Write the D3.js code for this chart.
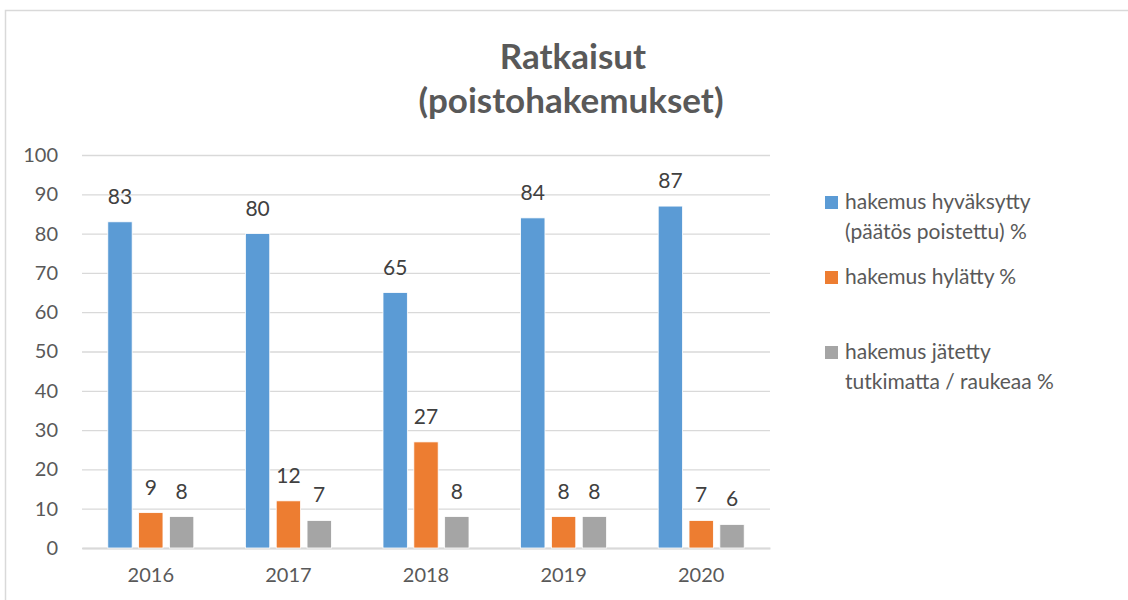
<!DOCTYPE html>
<html>
<head>
<meta charset="utf-8">
<script src="https://cdn.jsdelivr.net/npm/d3@7"></script>
<style>
  body { margin: 0; background: #fff; }
  text { font-family: Lato, "Open Sans", sans-serif; }
</style>
</head>
<body>
<div id="chart"></div>
<script>
// Data
const years = ["2016", "2017", "2018", "2019", "2020"];
const seriesNames = ["hyvaksytty", "hylatty", "jatetty"];
const hyvaksytty = [83, 80, 65, 84, 87];
const hylatty = [9, 12, 27, 8, 7];
const jatetty = [8, 7, 8, 8, 6];
const yTicks = [0, 10, 20, 30, 40, 50, 60, 70, 80, 90, 100];
const legendLabels = [
  ["hakemus hyväksytty", "(päätös poistettu) %"],
  ["hakemus hylätty %"],
  ["hakemus jätetty", "tutkimatta / raukeaa %"]
];
const colors = ["#5B9BD5", "#ED7D31", "#A5A5A5"];

let width = 1128, height = 600;
let margin = { top: 155, bottom: 52, left: 82, right: 358 };

let svg = d3.select('#chart')
  .append('svg')
  .attr('width', width)
  .attr('height', height);

// Chart border
svg.append('rect')
  .attr('x', 5.5)
  .attr('y', 10.5)
  .attr('width', 1140)
  .attr('height', 620)
  .attr('fill', 'none')
  .attr('stroke', '#D9D9D9')
  .attr('stroke-width', 1.5);

// Title
svg.append('text')
  .attr('x', 573)
  .attr('y', 69)
  .attr('text-anchor', 'middle')
  .attr('font-size', 35)
  .attr('font-weight', 'bold')
  .attr('fill', '#595959')
  .text('Ratkaisut');
svg.append('text')
  .attr('x', 571)
  .attr('y', 113)
  .attr('text-anchor', 'middle')
  .attr('font-size', 35)
  .attr('font-weight', 'bold')
  .attr('fill', '#595959')
  .text('(poistohakemukset)');

// Scales
let x0 = d3.scaleBand()
  .domain(years)
  .range([margin.left, width - margin.right]);

let x1 = d3.scaleBand()
  .domain(seriesNames)
  .range([-43, 43])
  .paddingInner(0.21);

let y = d3.scaleLinear()
  .domain([0, 100])
  .range([height - margin.bottom, margin.top]);

const color = d3.scaleOrdinal()
  .domain(seriesNames)
  .range(colors);

// Gridlines + y axis
let yAxis = svg.append('g')
  .attr('transform', `translate(${margin.left},0)`)
  .call(d3.axisLeft(y).tickValues(yTicks).tickSize(-(width - margin.right - margin.left)).tickPadding(24));
yAxis.select('.domain').remove();
yAxis.selectAll('line').attr('stroke', '#D9D9D9').attr('stroke-width', 1.3);
yAxis.selectAll('text')
  .attr('font-size', 20)
  .attr('fill', '#595959')
  .style('font-family', 'Lato, sans-serif');

// x axis
let xAxis = svg.append('g')
  .attr('transform', `translate(0,${y(0)})`)
  .call(d3.axisBottom(x0).tickSize(0).tickPadding(20));
xAxis.select('.domain').attr('stroke', '#D9D9D9').attr('stroke-width', 2);
xAxis.selectAll('text')
  .attr('font-size', 20)
  .attr('fill', '#595959')
  .style('font-family', 'Lato, sans-serif');

// Bars
const rows = years.map((yr, i) => ({
  year: yr,
  values: [
    { key: "hyvaksytty", v: hyvaksytty[i] },
    { key: "hylatty", v: hylatty[i] },
    { key: "jatetty", v: jatetty[i] }
  ]
}));

const groups = svg.selectAll('.grp')
  .data(rows)
  .enter()
  .append('g')
  .attr('transform', d => `translate(${x0(d.year) + x0.bandwidth() / 2},0)`);

groups.selectAll('rect')
  .data(d => d.values)
  .enter()
  .append('rect')
  .attr('x', d => x1(d.key))
  .attr('y', d => y(d.v))
  .attr('width', x1.bandwidth())
  .attr('height', d => y(0) - y(d.v))
  .attr('fill', d => color(d.key))
  .attr('stroke', '#fff')
  .attr('stroke-width', 0.8);

groups.selectAll('.lbl')
  .data(d => d.values)
  .enter()
  .append('text')
  .attr('x', d => x1(d.key) + x1.bandwidth() / 2)
  .attr('y', d => y(d.v) - 18)
  .attr('text-anchor', 'middle')
  .attr('font-size', 21)
  .attr('fill', '#404040')
  .text(d => d.v);

// Legend
const legendY = [209, 284, 359];
const legend = svg.append('g');
legendLabels.forEach((lines, i) => {
  legend.append('rect')
    .attr('x', 825)
    .attr('y', legendY[i] - 13)
    .attr('width', 13)
    .attr('height', 13)
    .attr('fill', colors[i]);
  lines.forEach((t, j) => {
    legend.append('text')
      .attr('x', 845)
      .attr('y', legendY[i] + j * 29.5)
      .attr('font-size', 21)
      .attr('fill', '#595959')
      .text(t);
  });
});
</script>
</body>
</html>
